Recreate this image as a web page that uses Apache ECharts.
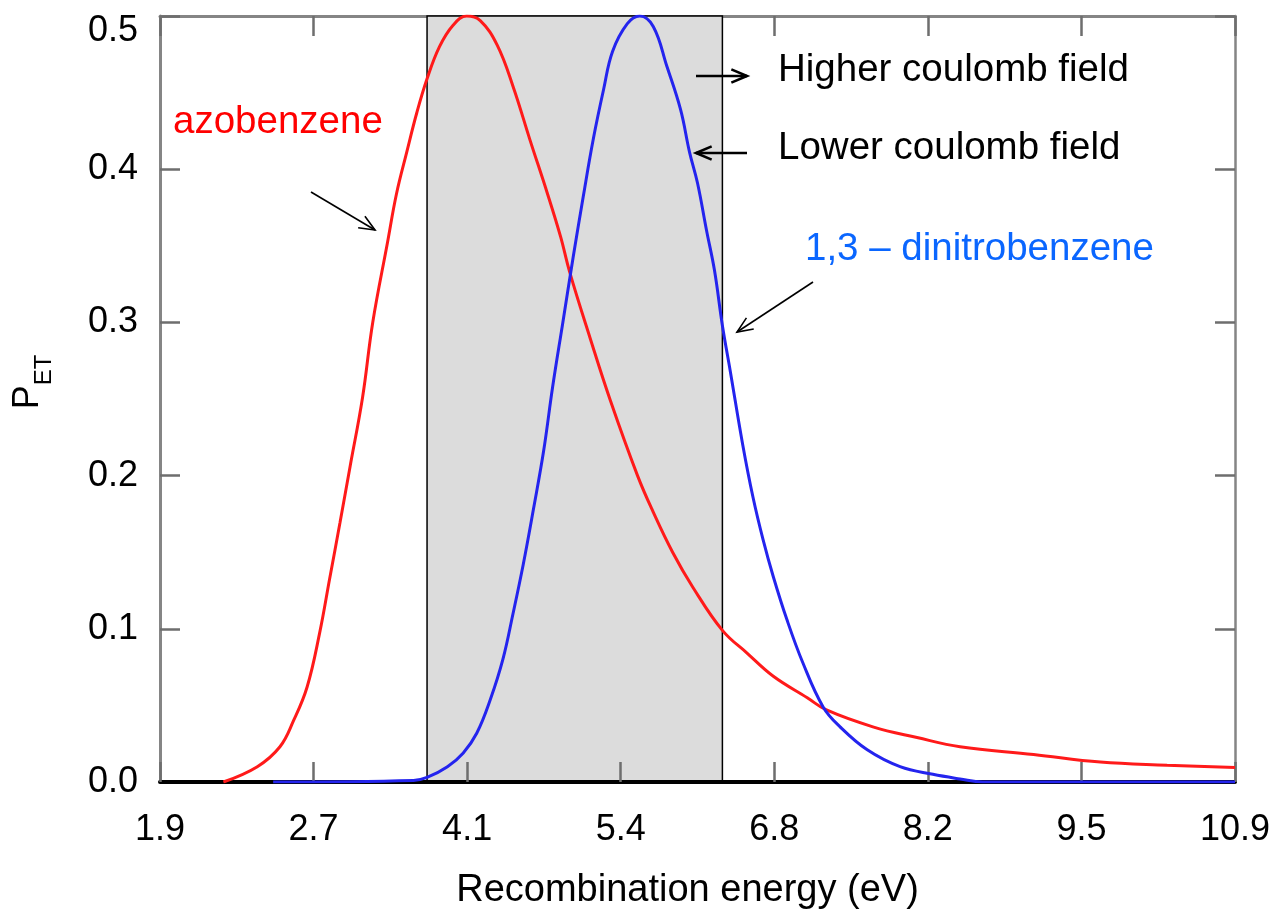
<!DOCTYPE html>
<html>
<head>
<meta charset="utf-8">
<title>Recombination energy</title>
<script src="https://cdn.jsdelivr.net/npm/echarts@6/dist/echarts.min.js"></script>
<style>
  html, body { margin: 0; padding: 0; background: #fff; }
  #chart { width: 1279px; height: 915px; }
</style>
</head>
<body>
<div id="chart"></div>
<script>
// tick labels as printed on the figure
const X_LABELS = ['1.9', '2.7', '4.1', '5.4', '6.8', '8.2', '9.5', '10.9'];
// axis runs linearly 1.4 .. 10.9 eV over 7 equal tick steps
const E_MIN = 1.4;
const E_STEP = 9.5 / 7;

// azobenzene (red)
const AZO_E = [1.96, 2.26, 2.46, 2.58, 2.70, 2.81, 2.90, 2.99, 3.08, 3.19, 3.28, 3.41, 3.49, 3.58,
  3.67, 3.76, 3.87, 3.99, 4.11, 4.23, 4.38, 4.52, 4.67, 4.82, 4.94, 5.02, 5.20, 5.38, 5.62, 5.76,
  5.93, 6.11, 6.37, 6.59, 6.82, 7.12, 7.29, 7.70, 8.09, 8.47, 9.12, 9.71, 10.30, 10.90];
const AZO_P = [0.000, 0.010, 0.023, 0.040, 0.062, 0.097, 0.133, 0.169, 0.206, 0.251, 0.300, 0.352, 0.384, 0.411,
  0.437, 0.459, 0.480, 0.494, 0.500, 0.497, 0.481, 0.454, 0.419, 0.385, 0.356, 0.333, 0.290, 0.249, 0.200, 0.176,
  0.150, 0.127, 0.099, 0.084, 0.069, 0.055, 0.047, 0.036, 0.029, 0.023, 0.018, 0.013, 0.011, 0.0095];

// 1,3-dinitrobenzene (blue)
const DNB_E = [2.40, 3.64, 3.76, 3.94, 4.08, 4.20, 4.32, 4.43, 4.52, 4.61, 4.70, 4.79, 4.87, 4.96, 5.05,
  5.14, 5.23, 5.32, 5.40, 5.53, 5.64, 5.76, 5.88, 6.00, 6.08, 6.15, 6.23, 6.30, 6.37, 6.44, 6.55, 6.64,
  6.73, 6.82, 6.94, 7.08, 7.26, 7.41, 7.65, 7.94, 8.23, 8.47, 8.67, 10.90];
const DNB_P = [0.000, 0.001, 0.003, 0.010, 0.019, 0.032, 0.054, 0.080, 0.110, 0.142, 0.178, 0.216, 0.258, 0.300, 0.342,
  0.382, 0.420, 0.452, 0.477, 0.495, 0.500, 0.493, 0.467, 0.439, 0.411, 0.391, 0.360, 0.334, 0.298, 0.268, 0.220, 0.186,
  0.158, 0.134, 0.106, 0.078, 0.049, 0.036, 0.021, 0.010, 0.005, 0.002, 0.000, 0.000];

// shaded window (eV)
const WINDOW_E = [3.76, 6.37];

const FONT = '"Liberation Sans", Arial, Helvetica, sans-serif';

function toTick(e) {
  return (e - E_MIN) / E_STEP;
}

function pairs(xs, ys) {
  return xs.map((e, i) => [toTick(e), ys[i]]);
}

function arrow(x1, y1, x2, y2, width) {
  const a = Math.atan2(y2 - y1, x2 - x1);
  const len = 17, spread = 0.4;
  const style = { stroke: '#000', lineWidth: width, fill: null };
  return {
    type: 'group',
    silent: true,
    z: 100,
    children: [
      { type: 'line', z: 100, shape: { x1, y1, x2, y2 }, style },
      {
        type: 'polyline',
        z: 100,
        shape: {
          points: [
            [x2 - len * Math.cos(a - spread), y2 - len * Math.sin(a - spread)],
            [x2, y2],
            [x2 - len * Math.cos(a + spread), y2 - len * Math.sin(a + spread)]
          ]
        },
        style
      }
    ]
  };
}

function note(text, x, y, color) {
  return {
    type: 'text',
    silent: true,
    z: 100,
    style: { text, x, y, fill: color, fontSize: 38.5, fontFamily: FONT, align: 'left', verticalAlign: 'middle' }
  };
}

function tickStyle() {
  return { show: true, inside: true, length: 20, lineStyle: { color: '#6e6e6e', width: 2.5 } };
}

const chart = echarts.init(document.getElementById('chart'));

chart.setOption({
  animation: false,
  backgroundColor: '#fff',
  grid: { left: 160, right: 44, top: 16, bottom: 133 },
  xAxis: [
    {
      type: 'value', min: 0, max: 7, interval: 1, position: 'bottom',
      name: 'Recombination energy (eV)', nameLocation: 'middle', nameGap: 90,
      nameTextStyle: { fontSize: 38, fontFamily: FONT, color: '#000', padding: [0, 20, 0, 0] },
      axisLine: { show: true, onZero: false, lineStyle: { color: '#000', width: 4 } },
      axisTick: tickStyle(),
      axisLabel: {
        margin: 30, fontSize: 36, fontFamily: FONT, color: '#000',
        formatter: v => X_LABELS[Math.round(v)]
      },
      splitLine: { show: false },
      z: 5
    },
    {
      type: 'value', min: 0, max: 7, interval: 1, position: 'top',
      axisLine: { show: true, onZero: false, lineStyle: { color: '#858585', width: 3 } },
      axisTick: tickStyle(),
      axisLabel: { show: false }, splitLine: { show: false }
    }
  ],
  yAxis: [
    {
      type: 'value', min: 0, max: 0.5, interval: 0.1, position: 'left',
      name: '{p|P}{s|ET}', nameLocation: 'middle', nameGap: 104,
      nameTextStyle: {
        color: '#000', fontFamily: FONT, padding: [0, 0, 0, 34],
        rich: {
          p: { fontSize: 36, fontFamily: FONT, lineHeight: 56, verticalAlign: 'middle' },
          s: { fontSize: 24, fontFamily: FONT, lineHeight: 24, verticalAlign: 'bottom' }
        }
      },
      axisLine: { show: true, onZero: false, lineStyle: { color: '#858585', width: 3 } },
      axisTick: tickStyle(),
      axisLabel: {
        margin: 22, fontSize: 36, fontFamily: FONT, color: '#000',
        formatter: v => (Math.abs(v - 0.5) < 1e-9 ? '{t|' + v.toFixed(1) + '}' : v.toFixed(1)),
        rich: { t: { fontSize: 36, fontFamily: FONT, color: '#000', padding: [30, 0, 0, 0] } }
      },
      splitLine: { show: false }
    },
    {
      type: 'value', min: 0, max: 0.5, interval: 0.1, position: 'right',
      axisLine: { show: true, onZero: false, lineStyle: { color: '#858585', width: 2.5 } },
      axisTick: tickStyle(),
      axisLabel: { show: false }, splitLine: { show: false }
    }
  ],
  series: [
    {
      name: 'window',
      type: 'line',
      data: [],
      z: 1,
      silent: true,
      markArea: {
        silent: true,
        label: { show: false },
        itemStyle: { color: '#dcdcdc', borderColor: '#000', borderWidth: 1.5 },
        data: [[
          { xAxis: toTick(WINDOW_E[0]), yAxis: 0 },
          { xAxis: toTick(WINDOW_E[1]), yAxis: 0.5 }
        ]]
      }
    },
    {
      name: 'azobenzene',
      type: 'line',
      data: pairs(AZO_E, AZO_P),
      showSymbol: false,
      smooth: 0.4,
      z: 6,
      lineStyle: { color: '#ff1a1a', width: 3 }
    },
    {
      name: '1,3 – dinitrobenzene',
      type: 'line',
      data: pairs(DNB_E, DNB_P),
      showSymbol: false,
      smooth: 0.4,
      z: 6,
      lineStyle: { color: '#2424ee', width: 3 }
    }
  ],
  graphic: [
    note('azobenzene', 173, 122, '#ff0000'),
    note('Higher coulomb field', 778, 70, '#000'),
    note('Lower coulomb field', 778, 148, '#000'),
    note('1,3 – dinitrobenzene', 805, 249, '#0a66ff'),
    arrow(696, 76, 747, 76, 2.6),
    arrow(747, 153, 696, 153, 2.6),
    arrow(311, 192, 375, 230, 1.6),
    arrow(813, 282, 737, 332, 1.6)
  ]
});
</script>
</body>
</html>
